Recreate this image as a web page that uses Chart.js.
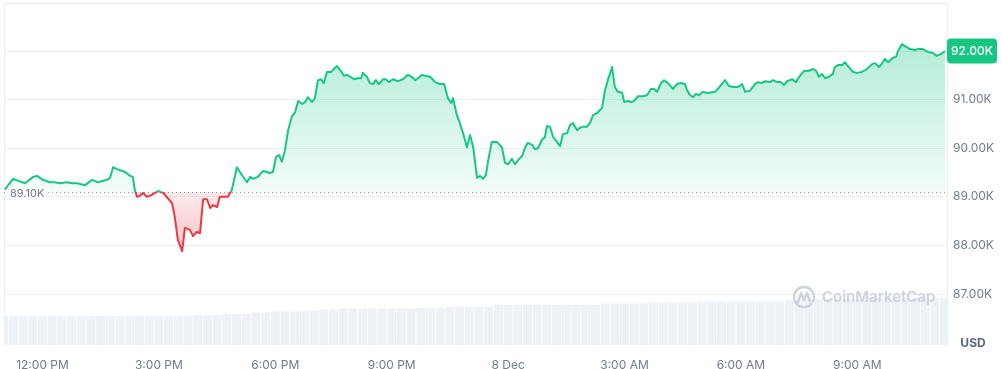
<!DOCTYPE html>
<html>
<head>
<meta charset="utf-8">
<script src="https://cdn.jsdelivr.net/npm/chart.js@4.4.1/dist/chart.umd.min.js"></script>
<style>
  html, body { margin: 0; padding: 0; background: #fff; }
  canvas { display: block; }
</style>
</head>
<body>
<canvas id="price-chart" width="1002" height="369"></canvas>
<script>
// hours since 00:00 on 7 Dec, price in thousands of USD
const hours = [
  11.03, 11.24, 11.55, 11.76, 11.86, 12.01, 12.19, 12.32, 12.45, 12.63,
  12.76, 12.89, 13.10, 13.28, 13.43, 13.66, 13.74, 13.82, 13.92, 14.13,
  14.26, 14.33, 14.38, 14.44, 14.51, 14.59, 14.69, 14.82, 14.90, 14.98,
  15.11, 15.23, 15.34, 15.41, 15.49, 15.60, 15.67, 15.80, 15.88, 15.98,
  16.06, 16.14, 16.24, 16.32, 16.39, 16.50, 16.57, 16.68, 16.78, 16.88,
  17.01, 17.14, 17.27, 17.35, 17.43, 17.55, 17.68, 17.79, 17.86, 17.94,
  18.02, 18.10, 18.17, 18.25, 18.33, 18.43, 18.51, 18.59, 18.69, 18.77,
  18.84, 18.95, 19.02, 19.10, 19.18, 19.25, 19.33, 19.44, 19.51, 19.59,
  19.69, 19.77, 19.85, 19.93, 20.03, 20.11, 20.21, 20.26, 20.36, 20.44,
  20.52, 20.59, 20.67, 20.78, 20.85, 20.93, 21.03, 21.16, 21.29, 21.42,
  21.52, 21.60, 21.68, 21.78, 21.86, 21.99, 22.12, 22.24, 22.35, 22.45,
  22.53, 22.58, 22.68, 22.73, 22.84, 22.94, 23.02, 23.10, 23.20, 23.28,
  23.35, 23.43, 23.48, 23.58, 23.71, 23.84, 23.92, 24.00, 24.10, 24.18,
  24.26, 24.36, 24.44, 24.51, 24.62, 24.69, 24.77, 24.87, 24.95, 25.00,
  25.08, 25.16, 25.26, 25.34, 25.41, 25.52, 25.60, 25.67, 25.78, 25.85,
  25.93, 26.03, 26.11, 26.19, 26.29, 26.42, 26.50, 26.57, 26.68, 26.75,
  26.83, 26.94, 26.99, 27.09, 27.17, 27.24, 27.35, 27.48, 27.58, 27.68,
  27.76, 27.84, 27.94, 28.02, 28.12, 28.25, 28.35, 28.46, 28.56, 28.61,
  28.69, 28.77, 28.84, 28.92, 29.02, 29.10, 29.20, 29.33, 29.43, 29.59,
  29.69, 29.80, 29.92, 30.03, 30.11, 30.23, 30.36, 30.44, 30.54, 30.62,
  30.75, 30.83, 30.93, 31.03, 31.11, 31.19, 31.32, 31.42, 31.52, 31.63,
  31.73, 31.86, 31.94, 32.01, 32.09, 32.17, 32.27, 32.37, 32.42, 32.50,
  32.61, 32.68, 32.76, 32.89, 32.99, 33.12, 33.25, 33.38, 33.46, 33.56,
  33.64, 33.71, 33.79, 33.92, 34.00, 34.05, 34.15, 34.23, 34.36, 34.49,
  34.56, 34.69, 34.82, 34.95, 35.05, 35.16, 35.26
];
const prices = [
  89.15, 89.37, 89.28, 89.41, 89.43, 89.35, 89.30, 89.30, 89.28, 89.30,
  89.28, 89.28, 89.24, 89.35, 89.30, 89.35, 89.39, 89.61, 89.57, 89.51,
  89.43, 89.41, 89.14, 89.00, 89.02, 89.08, 89.00, 89.04, 89.08, 89.12,
  89.08, 88.97, 88.87, 88.58, 88.11, 87.88, 88.36, 88.32, 88.19, 88.28,
  88.25, 88.95, 88.95, 88.77, 88.83, 88.79, 89.00, 89.00, 89.00, 89.14,
  89.61, 89.45, 89.30, 89.41, 89.37, 89.41, 89.53, 89.51, 89.49, 89.51,
  89.82, 89.86, 89.72, 89.96, 90.37, 90.66, 90.74, 90.97, 90.91, 90.95,
  91.05, 90.95, 91.03, 91.40, 91.42, 91.34, 91.57, 91.57, 91.63, 91.69,
  91.59, 91.49, 91.51, 91.47, 91.42, 91.44, 91.44, 91.55, 91.47, 91.34,
  91.32, 91.40, 91.32, 91.42, 91.42, 91.36, 91.42, 91.38, 91.42, 91.51,
  91.47, 91.40, 91.44, 91.51, 91.49, 91.47, 91.36, 91.32, 91.32, 91.03,
  90.93, 91.03, 90.68, 90.58, 90.31, 90.02, 90.27, 90.02, 89.39, 89.43,
  89.37, 89.45, 89.72, 90.13, 90.13, 90.02, 89.70, 89.67, 89.78, 89.67,
  89.76, 89.84, 90.02, 90.11, 90.07, 89.98, 90.00, 90.17, 90.23, 90.46,
  90.44, 90.23, 90.13, 90.04, 90.29, 90.31, 90.48, 90.52, 90.37, 90.42,
  90.44, 90.44, 90.52, 90.68, 90.72, 90.83, 91.20, 91.40, 91.67, 91.26,
  91.16, 91.14, 90.95, 90.97, 90.95, 90.97, 91.07, 91.07, 91.09, 91.22,
  91.22, 91.16, 91.34, 91.40, 91.34, 91.22, 91.32, 91.34, 91.32, 91.20,
  91.09, 91.05, 91.12, 91.09, 91.16, 91.14, 91.14, 91.16, 91.24, 91.40,
  91.28, 91.26, 91.26, 91.32, 91.16, 91.18, 91.32, 91.36, 91.34, 91.38,
  91.36, 91.40, 91.36, 91.36, 91.30, 91.38, 91.42, 91.36, 91.49, 91.59,
  91.59, 91.63, 91.59, 91.47, 91.53, 91.44, 91.47, 91.53, 91.67, 91.71,
  91.71, 91.77, 91.69, 91.57, 91.55, 91.57, 91.63, 91.73, 91.75, 91.67,
  91.75, 91.84, 91.77, 91.86, 91.88, 92.00, 92.14, 92.10, 92.04, 92.02,
  92.04, 92.04, 91.98, 91.96, 91.90, 91.94, 92.00
];

// volume bars, one every 15 minutes starting 11:00 (relative height units)
const volStart = 11.0;
const volStep = 0.25;
const volume = [
  29, 29, 29, 29, 29, 29, 29, 29, 29, 29,
  29, 29, 29, 29, 29, 29, 29, 29, 29, 29.5,
  30, 30, 30, 31, 31, 31, 32.5, 32.5, 33.5, 33.5,
  33.5, 34.5, 34.5, 35.5, 35.5, 36.5, 36.5, 36.5, 36.5, 36.5,
  36.5, 36.5, 36.5, 37, 37, 37, 38.5, 38.5, 38.5, 38.5,
  38.5, 40, 40, 40, 40, 40, 40, 40, 40, 40,
  40, 40, 41.5, 41.5, 41.5, 41.5, 41.5, 42.5, 42.5, 42.5,
  42.5, 42.5, 43.5, 43.5, 43.5, 43.5, 43.5, 43.5, 43.5, 43.5,
  43.5, 45, 45, 45, 46, 46, 46, 46, 46, 47,
  47, 47, 47, 47, 47, 47, 47, 47
];

const baseline = 89.10;
const yTicks = [87, 88, 89, 90, 91, 92];
const xTickHours = [12, 15, 18, 21, 24, 27, 30, 33];
const xTickLabels = ['12:00 PM', '3:00 PM', '6:00 PM', '9:00 PM', '8 Dec', '3:00 AM', '6:00 AM', '9:00 AM'];

const green = '#16c784';
const red = '#ea3943';
const gridColor = '#eceff3';
const textColor = '#6f7b8f';

Chart.defaults.font.family = 'Inter, "Noto Sans", sans-serif';
Chart.defaults.font.size = 12;
Chart.defaults.color = textColor;

function baselineY(chart) {
    return chart.scales.y.getPixelForValue(baseline);
}

// line colour: green above the opening price, red below
function lineColor(context) {
    const chart = context.chart;
    const area = chart.chartArea;
    if (!area) return green;
    const f = (baselineY(chart) - area.top) / (area.bottom - area.top);
    const g = chart.ctx.createLinearGradient(0, area.top, 0, area.bottom);
    g.addColorStop(0, green);
    g.addColorStop(f, green);
    g.addColorStop(f, red);
    g.addColorStop(1, red);
    return g;
}

function lineFill(context) {
    const chart = context.chart;
    const area = chart.chartArea;
    if (!area) {
        return { target: { value: baseline }, above: 'rgba(22,199,132,0.15)', below: 'rgba(234,57,67,0.15)' };
    }
    const yb = baselineY(chart);
    const up = chart.ctx.createLinearGradient(0, area.top, 0, yb);
    up.addColorStop(0, 'rgba(22,199,132,0.40)');
    up.addColorStop(1, 'rgba(22,199,132,0.05)');
    const down = chart.ctx.createLinearGradient(0, yb, 0, yb + 65);
    down.addColorStop(0, 'rgba(234,57,67,0.10)');
    down.addColorStop(1, 'rgba(234,57,67,0.32)');
    return { target: { value: baseline }, above: up, below: down };
}

const extras = {
    id: 'extras',
    beforeDatasetDraw(chart, args) {
        if (args.index !== 0) return;
        const { ctx, chartArea: a } = chart;
        const y = Math.round(baselineY(chart)) + 0.5;
        ctx.save();
        // frame on top and left
        ctx.strokeStyle = gridColor;
        ctx.lineWidth = 1;
        ctx.beginPath();
        ctx.moveTo(a.left, a.top + 0.5);
        ctx.lineTo(a.right, a.top + 0.5);
        ctx.moveTo(a.left + 0.5, a.top);
        ctx.lineTo(a.left + 0.5, a.bottom);
        ctx.stroke();
        // dotted opening price line
        ctx.strokeStyle = '#8f99aa';
        ctx.setLineDash([1, 3]);
        ctx.beginPath();
        ctx.moveTo(a.left, y);
        ctx.lineTo(a.right, y);
        ctx.stroke();
        ctx.restore();
    },
    afterDatasetsDraw(chart) {
        const { ctx, chartArea: a } = chart;
        const yb = baselineY(chart);
        ctx.save();
        // opening price label
        const label = baseline.toFixed(2) + 'K';
        ctx.font = '11px Inter, sans-serif';
        const w = ctx.measureText(label).width;
        ctx.fillStyle = '#ffffff';
        ctx.fillRect(a.left + 4, yb - 6, w + 6, 15);
        ctx.fillStyle = textColor;
        ctx.textBaseline = 'middle';
        ctx.textAlign = 'left';
        ctx.fillText(label, a.left + 6, yb + 2);

        // watermark
        const cx = 804, cy = 297;
        ctx.strokeStyle = 'rgba(200,207,220,0.9)';
        ctx.lineWidth = 2.4;
        ctx.lineCap = 'round';
        ctx.lineJoin = 'round';
        ctx.beginPath();
        ctx.arc(cx, cy, 10, 0.25 * Math.PI, 2.15 * Math.PI);
        ctx.stroke();
        ctx.beginPath();
        ctx.moveTo(cx - 6, cy + 5);
        ctx.lineTo(cx - 3, cy - 4);
        ctx.lineTo(cx, cy + 3);
        ctx.lineTo(cx + 3, cy - 4);
        ctx.lineTo(cx + 6, cy + 4);
        ctx.stroke();
        ctx.fillStyle = 'rgba(200,207,220,0.9)';
        ctx.font = '600 15px Inter, sans-serif';
        ctx.textBaseline = 'middle';
        ctx.fillText('CoinMarketCap', 822, cy);
        ctx.restore();
    },
    afterDraw(chart) {
        const { ctx, chartArea: a } = chart;
        ctx.save();
        // current price badge
        const last = prices[prices.length - 1];
        const by = chart.scales.y.getPixelForValue(last);
        ctx.fillStyle = green;
        ctx.beginPath();
        ctx.roundRect(a.right, by - 12.5, 50, 25, 4);
        ctx.fill();
        ctx.fillStyle = '#ffffff';
        ctx.font = '500 12px Inter, sans-serif';
        ctx.textAlign = 'center';
        ctx.textBaseline = 'middle';
        ctx.fillText(last.toFixed(2) + 'K', a.right + 25, by + 0.5);
        // currency
        ctx.fillStyle = '#58667e';
        ctx.font = '700 12px Inter, sans-serif';
        ctx.fillText('USD', 973, 343);
        ctx.restore();
    }
};

new Chart(document.querySelector('#price-chart').getContext('2d'), {
    data: {
        datasets: [
            {
                type: 'line',
                label: 'Price',
                data: hours.map((h, i) => ({ x: h, y: prices[i] })),
                yAxisID: 'y',
                borderColor: lineColor,
                borderWidth: 2,
                borderJoinStyle: 'round',
                pointRadius: 0,
                tension: 0,
                fill: lineFill,
                order: 1
            },
            {
                type: 'bar',
                label: 'Volume',
                data: volume.map((v, i) => ({ x: volStart + i * volStep, y: v })),
                yAxisID: 'y2',
                backgroundColor: '#eef1f5',
                borderWidth: 0,
                barPercentage: 0.92,
                categoryPercentage: 1,
                order: 2
            }
        ]
    },
    plugins: [extras],
    options: {
        responsive: false,
        animation: false,
        layout: { padding: { left: 4, top: 3, right: 0, bottom: 0 } },
        plugins: {
            legend: { display: false },
            tooltip: { enabled: false }
        },
        scales: {
            x: {
                type: 'linear',
                min: 11.008,
                max: 35.312,
                offset: false,
                grid: { display: false },
                border: { display: false },
                afterBuildTicks: scale => { scale.ticks = xTickHours.map(v => ({ value: v })); },
                afterFit: scale => {
                    scale.height = 24;
                    scale.paddingLeft = 0;
                    scale.paddingRight = 0;
                },
                ticks: {
                    padding: 5,
                    maxRotation: 0,
                    autoSkip: false,
                    callback: value => xTickLabels[xTickHours.indexOf(value)]
                }
            },
            y: {
                position: 'right',
                min: 85.951,
                max: 92.988,
                grid: { color: gridColor, drawTicks: false },
                border: { display: true, color: gridColor },
                afterBuildTicks: scale => { scale.ticks = yTicks.map(v => ({ value: v })); },
                afterFit: scale => {
                    scale.width = 55;
                    scale.paddingTop = 0;
                    scale.paddingBottom = 0;
                },
                ticks: {
                    padding: 6,
                    color: ctx => ctx.tick && ctx.tick.value === 92 ? 'rgba(0,0,0,0)' : textColor,
                    callback: value => value.toFixed(2) + 'K'
                }
            },
            y2: {
                display: false,
                min: 0,
                max: 342
            }
        }
    }
});
</script>
</body>
</html>
